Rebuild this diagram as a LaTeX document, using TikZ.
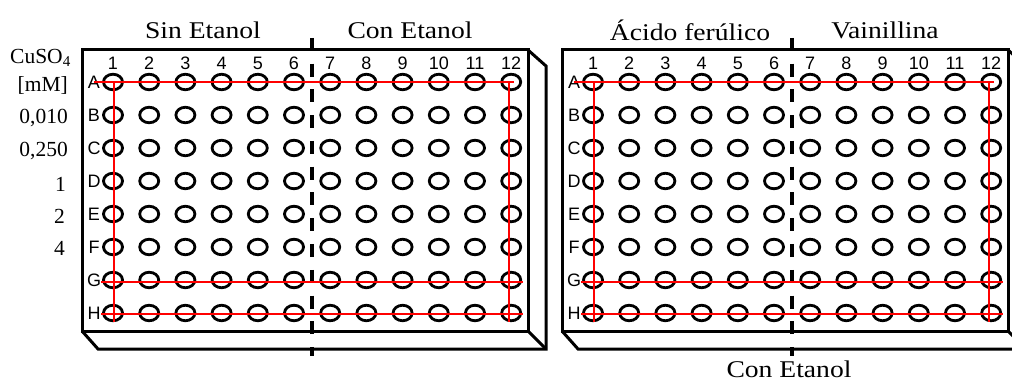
\documentclass[tikz,border=0pt]{standalone}
\usepackage{fontspec}
\setmainfont{Liberation Serif}
\setsansfont{Liberation Sans}
\newfontfamily\titlefont{Liberation Serif}[FakeStretch=1.15]
\usetikzlibrary{shapes.geometric}
\begin{document}
\begin{tikzpicture}[x=1pt,y=-1pt]
	% formatos
	\tikzstyle{pozo} = [draw, ellipse, line width=2.8pt, minimum width=19pt, minimum height=15.5pt, inner sep=0pt]
	\tikzstyle{borde} = [line width=3pt, line join=miter]
	\tikzstyle{roja} = [draw=red, line width=2.4pt]
	\tikzstyle{division} = [line width=3.2pt, dash pattern=on 13pt off 12.75pt]
	\tikzstyle{titulo} = [font=\titlefont\fontsize{24}{28}\selectfont, inner sep=0pt]
	\tikzstyle{lateral} = [font=\fontsize{21.5}{25}\selectfont, inner sep=0pt, anchor=east]
	\tikzstyle{etiqueta} = [font=\sffamily\fontsize{18}{20}\selectfont, inner sep=0pt]
	\useasboundingbox (0,0) rectangle (1012,382);
	\clip (0,0) rectangle (1012,382);
	% placas
	\foreach \p/\dx in {I/0, D/480} {
		\begin{scope}[xshift=\dx pt]
			\draw[borde] (82,50) rectangle (528,331);
			\draw[borde] (82,331) -- (98,349) -- (546,349) -- (546,66) -- (528,50);
			\draw[borde] (528,331) -- (546,349);
			% pozos
			\foreach \f [count=\r] in {A,...,H} {
				\node[etiqueta] (\p-\f) at (94,{82+33*(\r-1)}) {\f};
				\foreach \c in {1,...,12}
					\node[pozo] (\p-\f\c) at ({113+36.2*(\c-1)},{82+33*(\r-1)}) {};
			}
			\foreach \c in {1,...,12}
				\node[etiqueta] (\p-c\c) at ({113+36.2*(\c-1)},63) {\c};
			% division
			\draw[division] (312,38) -- (312,356);
			% lineas rojas
			\draw[roja] ([xshift=-19pt]\p-A1.center) -- ([xshift=3pt]\p-A12.center);
			\draw[roja] ([xshift=-12pt,yshift=-2pt]\p-G1.center) -- ([xshift=12pt,yshift=-2pt]\p-G12.center);
			\draw[roja] ([xshift=-12pt,yshift=-1pt]\p-H1.center) -- ([xshift=12pt,yshift=-1pt]\p-H12.center);
			\draw[roja] ([xshift=1pt]\p-A1.center) -- ([xshift=1pt,yshift=-9pt]\p-H1.center);
			\draw[roja] ([xshift=-2pt]\p-A12.center) -- ([xshift=-2pt,yshift=-9pt]\p-H12.center);
		\end{scope}
	}
	% titulos
	\node[titulo] (sin) at (203,30) {Sin Etanol};
	\node[titulo] (con) at (410,30) {Con Etanol};
	\node[titulo] (acido) at (690,30) {Ácido ferúlico};
	\node[titulo] (vainillina) at (885,30) {Vainillina};
	\node[titulo, anchor=base] (conabajo) at (789,377) {Con Etanol};
	% concentraciones
	\node[lateral] (cuso) at (71,58) {CuSO\textsubscript{4}};
	\node[lateral] (mm) at (68,85) {[mM]};
	\node[lateral] (c1) at (68,118) {0,010};
	\node[lateral] (c2) at (68,151) {0,250};
	\node[lateral] (c3) at (66,184) {1};
	\node[lateral] (c4) at (65,216) {2};
	\node[lateral] (c5) at (65,248) {4};
\end{tikzpicture}
\end{document}
